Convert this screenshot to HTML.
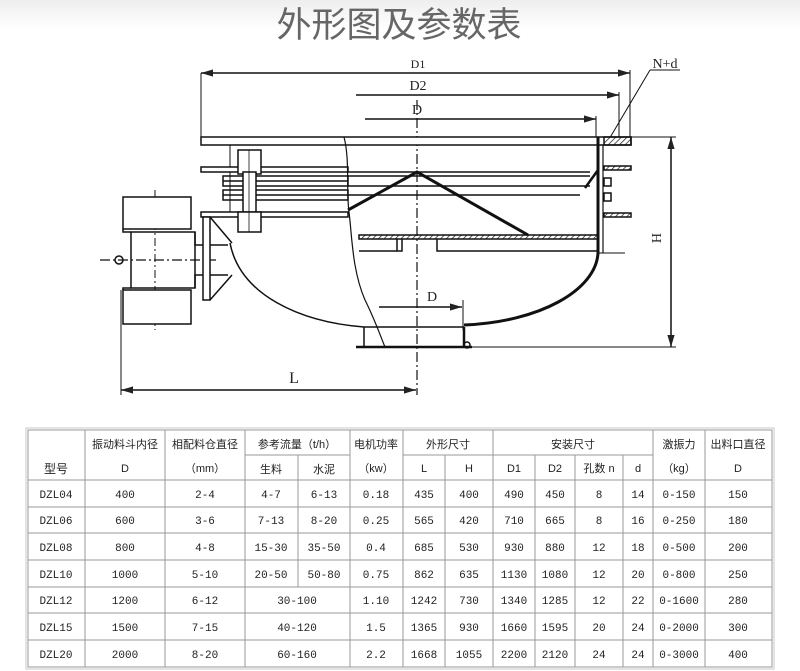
<!DOCTYPE html>
<html><head><meta charset="utf-8"><style>
html,body{margin:0;padding:0;background:#fff;}
svg{display:block}
</style></head><body>
<svg width="800" height="671" viewBox="0 0 800 671" xmlns="http://www.w3.org/2000/svg" font-family="Liberation Sans, Noto Sans CJK SC, sans-serif">
<defs>
<linearGradient id="tg" x1="0" y1="0" x2="0" y2="1"><stop offset="0" stop-color="#eeeeee"/><stop offset="1" stop-color="#ffffff"/></linearGradient>
<marker id="ar" viewBox="0 0 10 6" refX="10" refY="3" markerWidth="8" markerHeight="5" orient="auto-start-reverse"><path d="M0,0L10,3L0,6z" fill="#222"/></marker>
<pattern id="hat" width="4" height="4" patternUnits="userSpaceOnUse" patternTransform="rotate(45)"><line x1="0" y1="0" x2="0" y2="4" stroke="#222" stroke-width="1.5"/></pattern>
</defs>
<rect x="0" y="0" width="800" height="30" fill="url(#tg)"/>
<text x="399" y="37" text-anchor="middle" font-size="35" fill="#666" style="font-family:'Liberation Sans','Noto Sans CJK SC',sans-serif">外形图及参数表</text>

<g stroke="#111" fill="none" stroke-width="1.5">
<line x1="201" y1="73" x2="630" y2="73" marker-start="url(#ar)" marker-end="url(#ar)"/>
<line x1="356" y1="95" x2="619" y2="95" marker-end="url(#ar)"/>
<line x1="365" y1="119" x2="596" y2="119" marker-end="url(#ar)"/>
<line x1="201" y1="73" x2="201" y2="137" stroke-width="1"/>
<line x1="630" y1="70" x2="630" y2="137" stroke-width="1"/>
<line x1="619" y1="92" x2="619" y2="137" stroke-width="1"/>
<line x1="596" y1="116" x2="596" y2="137" stroke-width="1"/>
<line x1="608" y1="141" x2="650" y2="70" stroke-width="1"/>
<line x1="650" y1="70" x2="680" y2="70" stroke-width="1"/>
<line x1="631" y1="137" x2="676" y2="137" stroke-width="1"/>
<line x1="472" y1="347" x2="676" y2="347" stroke-width="1"/>
<line x1="671" y1="137" x2="671" y2="347" marker-start="url(#ar)" marker-end="url(#ar)"/>
<line x1="121" y1="290" x2="121" y2="395" stroke-width="1"/>
<line x1="121" y1="390" x2="416" y2="390" marker-start="url(#ar)" marker-end="url(#ar)"/>
<line x1="379" y1="307" x2="462" y2="307" marker-end="url(#ar)"/>
<line x1="463" y1="300" x2="463" y2="330" stroke-width="1"/>
<line x1="417" y1="100" x2="417" y2="395" stroke-dasharray="10,3,2,3" stroke-width="1.2"/>
<line x1="100" y1="260" x2="216" y2="260" stroke-dasharray="10,3,2,3" stroke-width="1.2"/>
<line x1="155" y1="190" x2="155" y2="330" stroke-dasharray="8,3,2,3" stroke-width="1"/>

<rect x="201" y="137" width="430" height="8" fill="#fff"/>
<rect x="604" y="137" width="27" height="8" fill="url(#hat)"/>
<line x1="230" y1="145" x2="230" y2="212" stroke-width="1"/>
<rect x="201" y="167" width="147" height="5" fill="#fff"/>
<rect x="223" y="176" width="125" height="10"/>
<rect x="223" y="190" width="125" height="10"/>
<rect x="201" y="212" width="147" height="5" fill="#fff"/>
<line x1="223" y1="181" x2="348" y2="181"/>
<line x1="223" y1="195" x2="348" y2="195"/>
<line x1="348" y1="172" x2="590" y2="172"/>
<line x1="348" y1="176" x2="590" y2="176"/>
<line x1="348" y1="186" x2="590" y2="186"/>
<line x1="348" y1="195" x2="580" y2="195"/>
<rect x="238" y="150" width="23" height="24" fill="#fff"/>
<rect x="243" y="172" width="13" height="40" fill="#fff"/>
<rect x="238" y="212" width="23" height="20" fill="#fff"/>
<line x1="249" y1="150" x2="249" y2="232" stroke-width="0.8"/>
<path d="M344,137 C350,160 346,190 349,212 C352,235 352,270 365,300 C375,320 380,335 385,347" stroke-width="1.2"/>
<path d="M348,210 L417,172 L528,235" stroke-width="3"/>
<rect x="359" y="235" width="239" height="4" fill="url(#hat)"/>
<path d="M397,239 V251 H402 V239 M437,239 V251 H598"/>
<line x1="359" y1="251" x2="397" y2="251"/>
<path d="M598,137 V253 C596,290 540,322 464,325" stroke-width="3"/>
<path d="M603,145 V253" stroke-width="1.2"/>
<line x1="598" y1="253" x2="625" y2="253" stroke-width="1"/>
<rect x="604" y="166" width="27" height="4" fill="url(#hat)"/>
<rect x="604" y="213" width="27" height="4" fill="url(#hat)"/>
<path d="M598,170 L585,188" stroke-width="2.5"/>
<rect x="604" y="178" width="7" height="8"/>
<rect x="604" y="193" width="7" height="8"/>
<path d="M230,243 C240,295 300,322 364,327" stroke-width="1.5"/>
<line x1="364" y1="327" x2="464" y2="327"/>
<line x1="356" y1="347" x2="472" y2="347" stroke-width="2.5"/>
<line x1="364" y1="327" x2="364" y2="347"/>
<line x1="464" y1="327" x2="464" y2="347" stroke-width="2.5"/>
<circle cx="467" cy="345" r="3"/>
<rect x="123" y="197" width="68" height="32" fill="#fff"/>
<rect x="123" y="290" width="68" height="34" fill="#fff"/>
<rect x="131" y="232" width="64" height="56"/>
<path d="M123,229 V232 H131 M123,290 V288 H131"/>
<path d="M195,232 V245 H203 M195,288 V275 H203"/>
<rect x="203" y="217" width="7" height="83" fill="#fff"/>
<path d="M210,217 L232,243 M210,300 L232,275 M210,245 H228 M210,275 H228"/>
<circle cx="119" cy="260" r="4"/>
</g>
<g font-size="14" fill="#222" style="font-family:'Liberation Serif',serif">
<text x="418" y="68" text-anchor="middle" font-size="12">D1</text>
<text x="418" y="90" text-anchor="middle">D2</text>
<text x="417" y="114" text-anchor="middle">D</text>
<text x="432" y="301" text-anchor="middle">D</text>
<text x="294" y="383" text-anchor="middle" font-size="16">L</text>
<text x="665" y="68" text-anchor="middle">N+d</text>
<text x="0" y="0" transform="translate(661,238) rotate(-90)" text-anchor="middle">H</text>
</g>

<g stroke="#9a9a9a" stroke-width="1" fill="none">
<rect x="28" y="430" width="744" height="237"/>
<rect x="26" y="428" width="748" height="241" stroke="#c8c8c8"/>
<line x1="245" y1="455" x2="350" y2="455"/>
<line x1="403" y1="455" x2="493" y2="455"/>
<line x1="493" y1="455" x2="653" y2="455"/>
<line x1="28" y1="480" x2="772" y2="480"/>
<line x1="28" y1="507" x2="772" y2="507"/>
<line x1="28" y1="533" x2="772" y2="533"/>
<line x1="28" y1="560" x2="772" y2="560"/>
<line x1="28" y1="587" x2="772" y2="587"/>
<line x1="28" y1="613" x2="772" y2="613"/>
<line x1="28" y1="640" x2="772" y2="640"/>
<line x1="85" y1="430" x2="85" y2="667"/>
<line x1="165" y1="430" x2="165" y2="667"/>
<line x1="245" y1="430" x2="245" y2="667"/>
<line x1="298" y1="455" x2="298" y2="587"/>
<line x1="350" y1="430" x2="350" y2="667"/>
<line x1="403" y1="430" x2="403" y2="667"/>
<line x1="445" y1="455" x2="445" y2="667"/>
<line x1="493" y1="430" x2="493" y2="667"/>
<line x1="535" y1="455" x2="535" y2="667"/>
<line x1="575" y1="455" x2="575" y2="667"/>
<line x1="623" y1="455" x2="623" y2="667"/>
<line x1="653" y1="430" x2="653" y2="667"/>
<line x1="705" y1="430" x2="705" y2="667"/>
</g>
<g font-size="11" fill="#222" text-anchor="middle">
<text x="125" y="448">振动料斗内径</text>
<text x="205" y="448">相配料仓直径</text>
<text x="297" y="448">参考流量（t/h）</text>
<text x="376" y="448">电机功率</text>
<text x="448" y="448">外形尺寸</text>
<text x="573" y="448">安装尺寸</text>
<text x="679" y="448">激振力</text>
<text x="738" y="448">出料口直径</text>
<text x="56" y="473" font-size="12">型号</text>
<text x="125" y="472">D</text>
<text x="205" y="472">（mm）</text>
<text x="271" y="473">生料</text>
<text x="324" y="473">水泥</text>
<text x="376" y="472">（kw）</text>
<text x="424" y="472">L</text>
<text x="469" y="472">H</text>
<text x="514" y="472">D1</text>
<text x="555" y="472">D2</text>
<text x="599" y="472">孔数 n</text>
<text x="638" y="472">d</text>
<text x="679" y="472">（kg）</text>
<text x="738" y="472">D</text>
</g>
<g font-size="11" fill="#222" text-anchor="middle" style="font-family:'Liberation Mono',monospace">
<g transform="translate(0,498)"><text x="56">DZL04</text><text x="125">400</text><text x="205">2-4</text><text x="271">4-7</text><text x="324">6-13</text><text x="376">0.18</text><text x="424">435</text><text x="469">400</text><text x="514">490</text><text x="555">450</text><text x="599">8</text><text x="638">14</text><text x="679">0-150</text><text x="738">150</text></g>
<g transform="translate(0,524)"><text x="56">DZL06</text><text x="125">600</text><text x="205">3-6</text><text x="271">7-13</text><text x="324">8-20</text><text x="376">0.25</text><text x="424">565</text><text x="469">420</text><text x="514">710</text><text x="555">665</text><text x="599">8</text><text x="638">16</text><text x="679">0-250</text><text x="738">180</text></g>
<g transform="translate(0,551)"><text x="56">DZL08</text><text x="125">800</text><text x="205">4-8</text><text x="271">15-30</text><text x="324">35-50</text><text x="376">0.4</text><text x="424">685</text><text x="469">530</text><text x="514">930</text><text x="555">880</text><text x="599">12</text><text x="638">18</text><text x="679">0-500</text><text x="738">200</text></g>
<g transform="translate(0,578)"><text x="56">DZL10</text><text x="125">1000</text><text x="205">5-10</text><text x="271">20-50</text><text x="324">50-80</text><text x="376">0.75</text><text x="424">862</text><text x="469">635</text><text x="514">1130</text><text x="555">1080</text><text x="599">12</text><text x="638">20</text><text x="679">0-800</text><text x="738">250</text></g>
<g transform="translate(0,604)"><text x="56">DZL12</text><text x="125">1200</text><text x="205">6-12</text><text x="297">30-100</text><text x="376">1.10</text><text x="424">1242</text><text x="469">730</text><text x="514">1340</text><text x="555">1285</text><text x="599">12</text><text x="638">22</text><text x="679">0-1600</text><text x="738">280</text></g>
<g transform="translate(0,631)"><text x="56">DZL15</text><text x="125">1500</text><text x="205">7-15</text><text x="297">40-120</text><text x="376">1.5</text><text x="424">1365</text><text x="469">930</text><text x="514">1660</text><text x="555">1595</text><text x="599">20</text><text x="638">24</text><text x="679">0-2000</text><text x="738">300</text></g>
<g transform="translate(0,658)"><text x="56">DZL20</text><text x="125">2000</text><text x="205">8-20</text><text x="297">60-160</text><text x="376">2.2</text><text x="424">1668</text><text x="469">1055</text><text x="514">2200</text><text x="555">2120</text><text x="599">24</text><text x="638">24</text><text x="679">0-3000</text><text x="738">400</text></g>
</g>
</svg>
</body></html>
